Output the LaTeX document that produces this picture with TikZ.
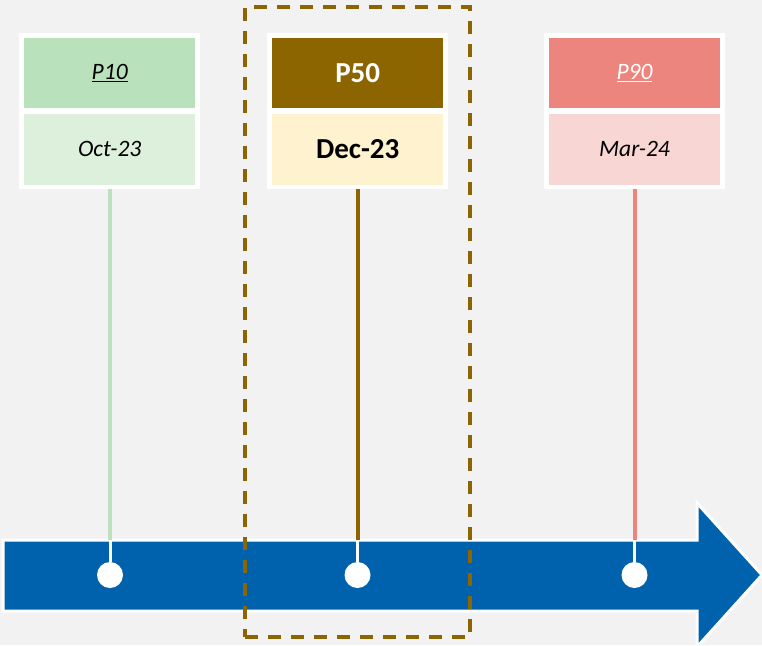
\documentclass[tikz,border=0pt]{standalone}
\usepackage{fontspec}
\setmainfont{Carlito}
\definecolor{bg}{HTML}{F2F2F2}
\definecolor{arrowblue}{HTML}{0062AD}
\definecolor{greentop}{HTML}{B9E1BB}
\definecolor{greenbot}{HTML}{DDF0DC}
\definecolor{greenline}{HTML}{BCE2BD}
\definecolor{brown}{HTML}{8C6400}
\definecolor{creambot}{HTML}{FFF2CF}
\definecolor{salmontop}{HTML}{EB857D}
\definecolor{salmonbot}{HTML}{F8D6D4}
\begin{document}
\begin{tikzpicture}[x=1pt,y=-1pt,
  frame/.style={fill=white, draw=none, inner sep=0pt, minimum width=181pt, minimum height=156pt},
  cell/.style={draw=none, inner sep=0pt, minimum width=171pt, minimum height=70.5pt},
  ital/.style={font=\fontsize{23.5}{27}\selectfont\itshape},
  boldt/.style={font=\fontsize{29}{33}\selectfont\bfseries},
  dot/.style={circle, fill=white, draw=none, inner sep=0pt, minimum size=26pt},
  stem/.style={line width=4pt},
  stub/.style={white, line width=3pt},
  focus/.style={draw=brown, line width=3.2pt, dash pattern=on 13pt off 10pt}
]
\useasboundingbox (0,0) rectangle (762,645);
\fill[bg] (0,0) rectangle (762,645);

% timeline arrow
\draw[fill=arrowblue, draw=white, line width=3pt, line join=miter]
  (3,540) -- (697,540) -- (697,503) -- (762,575) -- (697,647) -- (697,611) -- (3,611) -- cycle;

% anchor coordinates on arrow top edge
\coordinate (t1) at (110,540);
\coordinate (t2) at (357.5,540);
\coordinate (t3) at (634.5,540);

% dots
\node[dot] (d1) at (110,575) {};
\node[dot] (d2) at (357.5,575) {};
\node[dot] (d3) at (634.5,575) {};

% boxes
\node[frame] (f1) at (109.7,111) {};
\node[cell, fill=greentop, ital] (h1) at (109.7,73) {\underline{P10}};
\node[cell, fill=greenbot, ital] (b1) at (109.7,149.3) {Oct-23};

\node[frame] (f2) at (357.7,111) {};
\node[cell, fill=brown, text=white, boldt] (h2) at (357.7,73) {P50};
\node[cell, fill=creambot, boldt] (b2) at (357.7,149.3) {Dec-23};

\node[frame] (f3) at (634.5,111) {};
\node[cell, fill=salmontop, text=white, ital] (h3) at (634.5,73) {\underline{P90}};
\node[cell, fill=salmonbot, ital] (b3) at (634.5,149.3) {Mar-24};

% stems
\draw[stem, greenline] (f1.south -| t1) -- (t1);
\draw[stem, brown] (f2.south -| t2) -- (t2);
\draw[stem, salmontop] (f3.south -| t3) -- (t3);
\draw[stub] (t1) -- (d1.north);
\draw[stub] (t2) -- (d2.north);
\draw[stub] (t3) -- (d3.north);

% highlight frame
\node[focus, inner sep=0pt, minimum width=225pt, minimum height=630pt] (hl) at (357.5,322) {};
\end{tikzpicture}
\end{document}
